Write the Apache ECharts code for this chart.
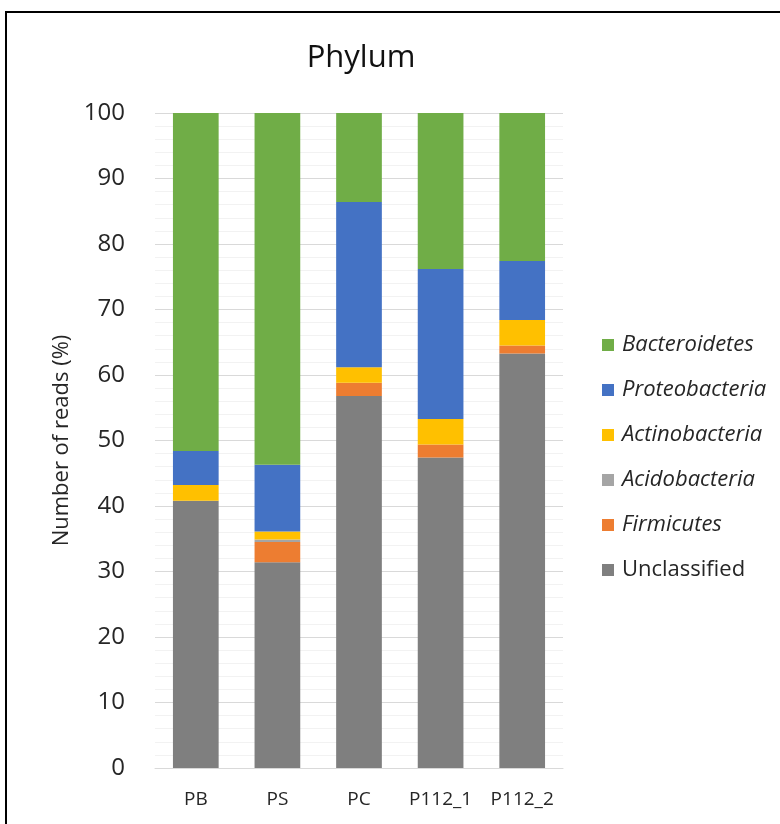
<!DOCTYPE html>
<html>
<head>
<meta charset="utf-8">
<script src="https://cdn.jsdelivr.net/npm/echarts@6/dist/echarts.min.js"></script>
<style>
  html, body { margin: 0; padding: 0; background: #fff; }
  #chart { width: 780px; height: 824px; }
</style>
</head>
<body>
<div id="chart"></div>
<script>
// Samples along the x axis
const samples = ['PB', 'PS', 'PC', 'P112_1', 'P112_2'];

// Relative abundance (% of reads) per phylum, stacked bottom to top
const unclassified   = [40.8, 31.4, 56.8, 47.4, 63.3];
const firmicutes     = [0.0, 3.1, 2.0, 2.0, 1.2];
const acidobacteria  = [0.0, 0.4, 0.0, 0.0, 0.0];
const actinobacteria = [2.4, 1.2, 2.4, 3.9, 3.9];
const proteobacteria = [5.2, 10.2, 25.2, 22.9, 9.0];
const bacteroidetes  = [51.6, 53.7, 13.6, 23.8, 22.6];

const yTicks = [0, 10, 20, 30, 40, 50, 60, 70, 80, 90, 100];

const font = '"Open Sans", "Noto Sans", sans-serif';
const ink = '#262626';

const stackSeries = [
  { name: 'Unclassified',   data: unclassified,   color: '#7F7F7F' },
  { name: 'Firmicutes',     data: firmicutes,     color: '#ED7D31' },
  { name: 'Acidobacteria',  data: acidobacteria,  color: '#A5A5A5' },
  { name: 'Actinobacteria', data: actinobacteria, color: '#FFC000' },
  { name: 'Proteobacteria', data: proteobacteria, color: '#4472C4' },
  { name: 'Bacteroidetes',  data: bacteroidetes,  color: '#70AD47' }
];

const legendOrder = ['Bacteroidetes', 'Proteobacteria', 'Actinobacteria', 'Acidobacteria', 'Firmicutes', 'Unclassified'];

const chart = echarts.init(document.getElementById('chart'), null, { renderer: 'canvas' });

chart.setOption({
  animation: false,
  backgroundColor: '#fff',
  title: {
    text: 'Phylum',
    left: 356,
    textAlign: 'center',
    top: 38,
    textStyle: { fontFamily: font, fontSize: 31, fontWeight: 'normal', color: '#111' }
  },
  grid: { left: 155, right: 217, top: 113, bottom: 56, containLabel: false },
  legend: {
    orient: 'vertical',
    left: 597,
    top: 329,
    itemWidth: 12,
    itemHeight: 12,
    itemGap: 23,
    icon: 'rect',
    textStyle: { fontFamily: font, fontSize: 22, color: ink, padding: [0, 0, 0, 3] },
    data: legendOrder.map(n => ({
      name: n,
      textStyle: { fontStyle: n === 'Unclassified' ? 'normal' : 'italic' }
    }))
  },
  xAxis: {
    type: 'category',
    data: samples,
    axisLine: { show: true, lineStyle: { color: '#D9D9D9', width: 1 } },
    axisTick: { show: false },
    axisLabel: { fontFamily: font, fontSize: 19, color: ink, margin: 22, interval: 0, hideOverlap: false }
  },
  yAxis: {
    type: 'value',
    min: 0,
    max: 100,
    interval: 10,
    name: 'Number of reads (%)',
    nameLocation: 'middle',
    nameRotate: 90,
    nameGap: 80,
    nameTextStyle: { fontFamily: font, fontSize: 22, color: ink },
    axisLine: { show: false },
    axisTick: { show: false },
    axisLabel: {
      fontFamily: font, fontSize: 24, color: ink, margin: 30,
      formatter: v => (yTicks.includes(v) ? String(v) : '')
    },
    splitLine: { show: true, lineStyle: { color: '#D9D9D9', width: 1 } },
    minorTick: { show: false, splitNumber: 5 },
    minorSplitLine: { show: true, lineStyle: { color: '#F2F2F2', width: 1 } }
  },
  series: stackSeries.map(s => ({
    name: s.name,
    type: 'bar',
    stack: 'reads',
    data: s.data,
    barCategoryGap: '44%',
    itemStyle: { color: s.color },
    emphasis: { disabled: true }
  })),
  graphic: [{
    type: 'rect',
    shape: { x: 6, y: 12, width: 820, height: 860 },
    style: { fill: 'none', stroke: '#000', lineWidth: 2 },
    silent: true,
    z: 100
  }]
});
</script>
</body>
</html>
